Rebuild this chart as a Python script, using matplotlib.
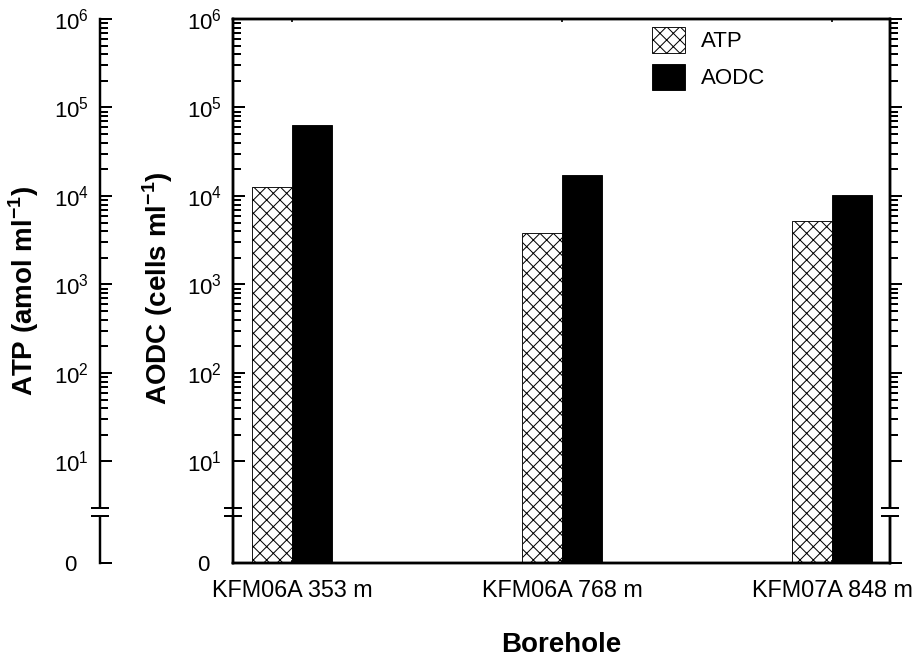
import numpy as np
import matplotlib
matplotlib.use("Agg")
import matplotlib.pyplot as plt
from matplotlib.ticker import FixedLocator, FixedFormatter, NullFormatter

plt.rcParams["font.family"] = ["Liberation Sans", "DejaVu Sans"]
plt.rcParams["mathtext.fontset"] = "custom"
plt.rcParams["mathtext.rm"] = "Liberation Sans"
plt.rcParams["mathtext.bf"] = "Liberation Sans:bold"
plt.rcParams["hatch.linewidth"] = 0.9

# data
boreholes = ["KFM06A 353 m", "KFM06A 768 m", "KFM07A 848 m"]
atp = [12600, 3820, 5220]        # amol/ml
aodc = [63400, 17300, 10300]     # cells/ml
decades = [1, 2, 3, 4, 5, 6]

# broken log axis: linear stretch from 0 up to C, log above
Z = -0.147
C = 3.0
LC = np.log10(C)


def fwd(y):
    y = np.asarray(y, dtype=float)
    safe = np.where(y > C, y, C)
    return np.where(y > C, np.log10(safe), Z + (LC - Z) * y / C)


def inv(p):
    p = np.asarray(p, dtype=float)
    safe = np.where(p > LC, p, LC)
    return np.where(p > LC, 10.0 ** safe, (p - Z) * C / (LC - Z))


major = [0] + [10.0 ** d for d in decades]
# trailing en space on "0" so it lines up with the "10" of the others
major_labels = ["0\u2002"] + [r"$\mathregular{10^{%d}}$" % d for d in decades]
minor = [k * 10.0 ** d for d in decades[:-1] for k in range(2, 10)]

SPINE_W = 2.2
BREAKS = (0.086, 0.101)


def style_y(a):
    a.set_yscale("function", functions=(fwd, inv))
    a.set_ylim(0, 1e6)
    a.yaxis.set_major_locator(FixedLocator(major))
    a.yaxis.set_major_formatter(FixedFormatter(major_labels))
    a.yaxis.set_minor_locator(FixedLocator(minor))
    a.yaxis.set_minor_formatter(NullFormatter())
    for s in a.spines.values():
        s.set_linewidth(SPINE_W)


def draw_break(a, xfrac):
    a.plot([xfrac, xfrac], list(BREAKS), color="white", lw=5,
           transform=a.transAxes, clip_on=False, zorder=5, solid_capstyle="butt")
    a.plot([xfrac, xfrac], list(BREAKS), ls="none", marker="_", ms=17, mew=1.8,
           color="black", transform=a.transAxes, clip_on=False, zorder=6)


fig = plt.figure(figsize=(11.5, 8.2))
H = 544 / 656
B = 93 / 656

ax = fig.add_axes([233 / 920, B, 657 / 920, H])
style_y(ax)
ax.tick_params(axis="y", which="major", direction="in", length=10.8, width=1.8,
               labelsize=20, pad=10, right=False)
ax.tick_params(axis="y", which="minor", direction="in", length=7.2, width=1.8, right=False)

x = np.arange(len(boreholes))
w = 0.148
ax.bar(x - w / 2, atp, w, bottom=0, facecolor="white", edgecolor="black",
       linewidth=0.8, hatch="xx", label="ATP")
ax.bar(x + w / 2, aodc, w, bottom=0, color="black", edgecolor="black",
       linewidth=0.8, label="AODC")
ax.set_xlim(-0.2185, 2.215)
ax.set_xticks(x)
ax.set_xticklabels(boreholes, fontsize=21)
ax.tick_params(axis="x", direction="in", length=3, width=1.5, top=True, pad=14)
ax.set_xlabel("Borehole", fontsize=25, fontweight="bold", labelpad=27)

leg = ax.legend(frameon=False, loc="upper left", bbox_to_anchor=(0.638, 0.985),
                fontsize=20, handlelength=1.5, handleheight=1.4,
                handletextpad=0.7, labelspacing=0.5, borderaxespad=0, borderpad=0)

# right-hand axis, ticks outward, no labels
axr = ax.twinx()
style_y(axr)
axr.tick_params(axis="y", which="major", direction="out", length=10.8, width=1.8,
                labelright=False)
axr.tick_params(axis="y", which="minor", direction="out", length=7.2, width=1.8)

# detached ATP axis on the far left
axl = fig.add_axes([100 / 920, B, 0.0001, H])
style_y(axl)
for side in ("right", "top", "bottom"):
    axl.spines[side].set_visible(False)
axl.patch.set_visible(False)
axl.set_xticks([])
axl.tick_params(axis="y", which="major", direction="in", length=10.8, width=1.8,
                labelsize=20, pad=10)
axl.tick_params(axis="y", which="minor", direction="in", length=7.2, width=1.8)

draw_break(ax, 0)
draw_break(axr, 1)
draw_break(axl, 0)

fig.text(24 / 920, 1 - 291 / 656, r"ATP (amol ml$^{\mathregular{-1}}$)", rotation=90,
         ha="center", va="center", fontsize=25, fontweight="bold")
fig.text(158 / 920, 1 - 288 / 656, r"AODC (cells ml$^{\mathregular{-1}}$)", rotation=90,
         ha="center", va="center", fontsize=25, fontweight="bold")

fig.savefig("out.png", dpi=80)
